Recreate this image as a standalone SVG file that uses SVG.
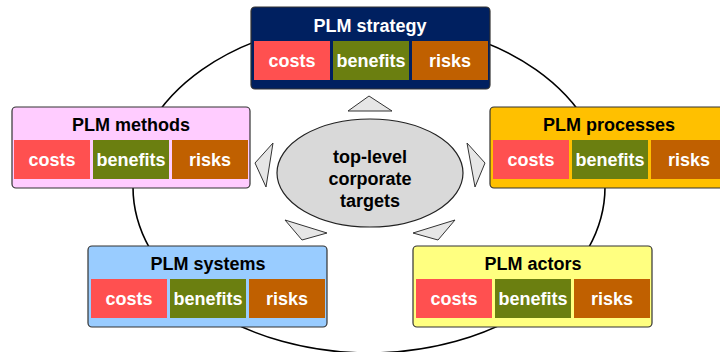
<svg xmlns="http://www.w3.org/2000/svg" width="720" height="352" viewBox="0 0 720 352">
<style>
text{font-family:"Liberation Sans",Arial,sans-serif;font-weight:bold;font-size:18px;text-anchor:middle}
.box{stroke:#333;stroke-width:1.2}
.c{fill:#FF5050}.b{fill:#6B7F10}.r{fill:#C06000}
.ct{fill:#fff}
.tri{fill:#E6E6E6;stroke:#333;stroke-width:1}
</style>
<rect width="720" height="352" fill="#fff"/>
<g id="connectors">
<ellipse cx="369" cy="187" rx="236" ry="166" fill="none" stroke="#000" stroke-width="1.6"/>
<polygon class="tri" points="348,111 369,96 392,111"/>
<polygon class="tri" points="255,163 273,143 266,187"/>
<polygon class="tri" points="467,143 485,163 475,187"/>
<polygon class="tri" points="285,220 327,233 302,240"/>
<polygon class="tri" points="413,233 455,220 438,240"/>
</g>
<g id="center">
<ellipse cx="370" cy="173" rx="93" ry="54" fill="#D9D9D9" stroke="#222" stroke-width="1.2"/>
<text x="370" y="163">top-level</text>
<text x="370" y="185">corporate</text>
<text x="370" y="207">targets</text>
</g>
<g id="strategy">
<rect class="box" x="251" y="7" width="239" height="82" rx="4" fill="#002060"/>
<text x="370" y="32" fill="#fff">PLM strategy</text>
<rect class="c" x="254" y="41" width="76" height="39"/><text class="ct" x="292" y="67">costs</text>
<rect class="b" x="333" y="41" width="76" height="39"/><text class="ct" x="371" y="67">benefits</text>
<rect class="r" x="412" y="41" width="76" height="39"/><text class="ct" x="450" y="67">risks</text>
</g>
<g id="methods">
<rect class="box" x="12" y="107" width="238" height="81" rx="4" fill="#FFCCFF"/>
<text x="131" y="131">PLM methods</text>
<rect class="c" x="14" y="140" width="76" height="39"/><text class="ct" x="52" y="166">costs</text>
<rect class="b" x="93" y="140" width="76" height="39"/><text class="ct" x="131" y="166">benefits</text>
<rect class="r" x="172" y="140" width="76" height="39"/><text class="ct" x="210" y="166">risks</text>
</g>
<g id="processes">
<rect class="box" x="490" y="107" width="239" height="81" rx="4" fill="#FFC000"/>
<text x="609" y="131">PLM processes</text>
<rect class="c" x="493" y="140" width="76" height="39"/><text class="ct" x="531" y="166">costs</text>
<rect class="b" x="572" y="140" width="76" height="39"/><text class="ct" x="610" y="166">benefits</text>
<rect class="r" x="651" y="140" width="76" height="39"/><text class="ct" x="689" y="166">risks</text>
</g>
<g id="systems">
<rect class="box" x="88" y="246" width="239" height="81" rx="4" fill="#99CCFF"/>
<text x="208" y="270">PLM systems</text>
<rect class="c" x="91" y="279" width="76" height="39"/><text class="ct" x="129" y="305">costs</text>
<rect class="b" x="170" y="279" width="76" height="39"/><text class="ct" x="208" y="305">benefits</text>
<rect class="r" x="249" y="279" width="76" height="39"/><text class="ct" x="287" y="305">risks</text>
</g>
<g id="actors">
<rect class="box" x="413" y="246" width="239" height="81" rx="4" fill="#FFFF80"/>
<text x="533" y="270">PLM actors</text>
<rect class="c" x="416" y="279" width="76" height="39"/><text class="ct" x="454" y="305">costs</text>
<rect class="b" x="495" y="279" width="76" height="39"/><text class="ct" x="533" y="305">benefits</text>
<rect class="r" x="574" y="279" width="76" height="39"/><text class="ct" x="612" y="305">risks</text>
</g>
</svg>
